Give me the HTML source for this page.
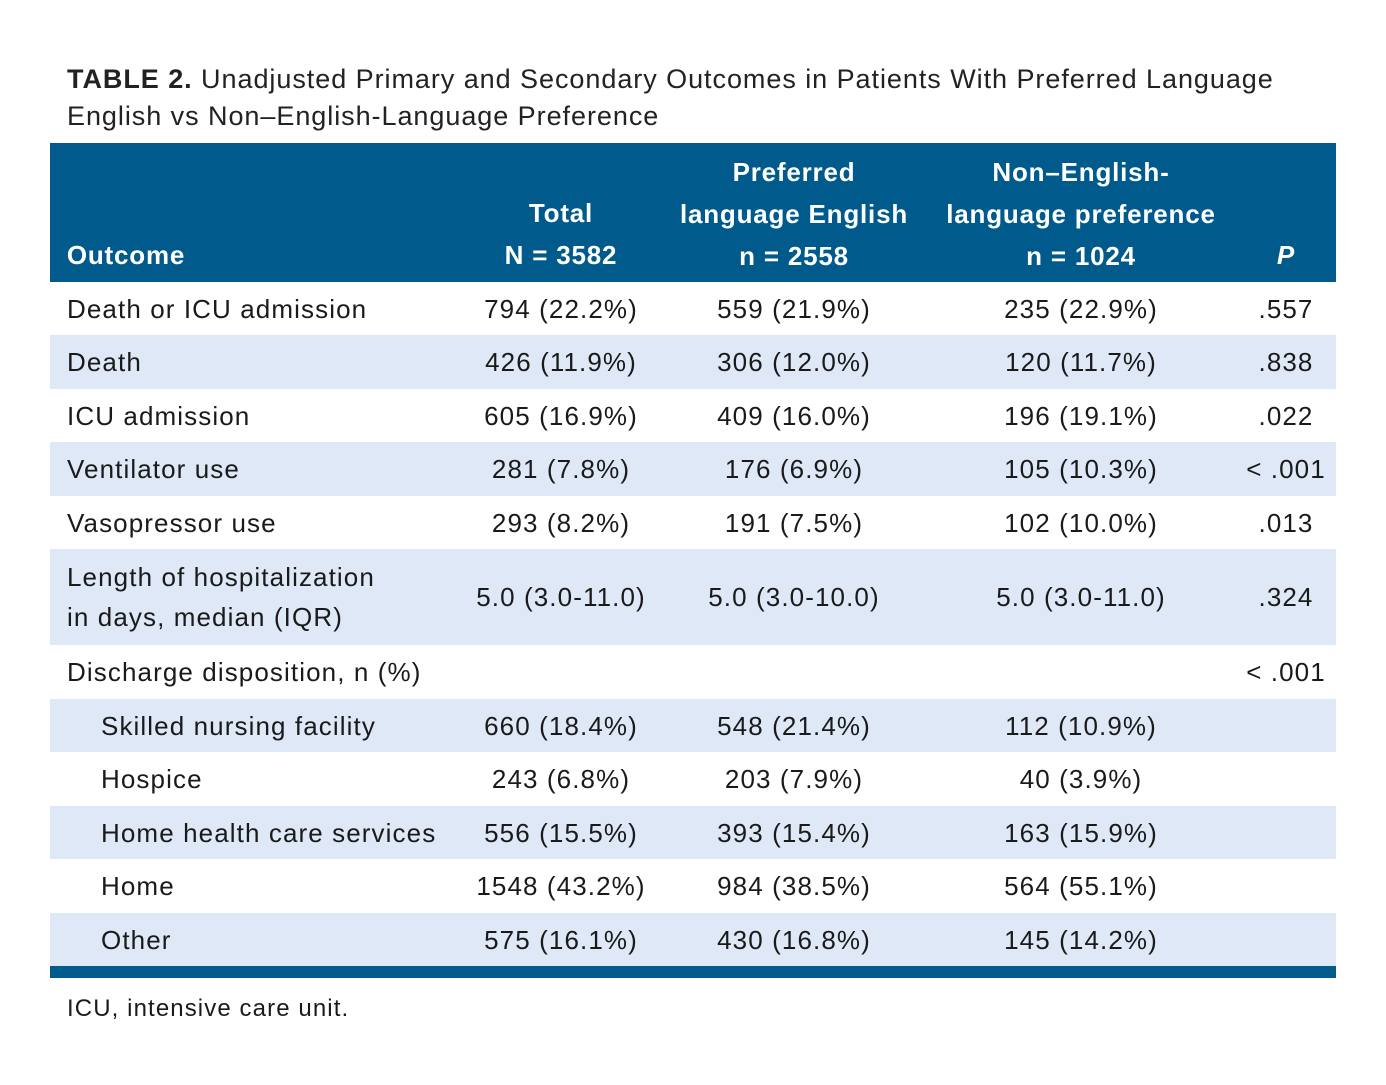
<!DOCTYPE html>
<html><head><meta charset="utf-8"><style>
body{margin:0;width:1386px;height:1085px;background:#fff;font-family:"Liberation Sans",sans-serif;color:#1a1a1a;position:relative;overflow:hidden}
.t{position:absolute;white-space:nowrap;font-size:26px;line-height:30px;letter-spacing:1.1px}
.c{transform:translateX(-50%);text-align:center}
.hdr{position:absolute;left:50px;top:143px;width:1286px;height:139px;background:#005a8c}
.h{position:absolute;color:#fff;font-weight:bold;font-size:26px;line-height:42px;text-align:center;transform:translateX(-50%);white-space:nowrap;letter-spacing:0.8px}
.row{position:absolute;left:50px;width:1286px}
.alt{background:#dee8f6}
</style></head><body>
<div class="t" style="left:67px;top:61px;font-size:27px;line-height:37px;color:#222;letter-spacing:0.95px"><b>TABLE 2.</b> Unadjusted Primary and Secondary Outcomes in Patients With Preferred Language<br>English vs Non–English-Language Preference</div>
<div class="hdr"></div>
<div class="h" style="left:126px;top:234px">Outcome</div>
<div class="h" style="left:561px;top:192px">Total<br>N = 3582</div>
<div class="h" style="left:794px;top:151px">Preferred<br>language English<br>n = 2558</div>
<div class="h" style="left:1081px;top:151px">Non–English-<br>language preference<br>n = 1024</div>
<div class="h" style="left:1286px;top:234px"><i>P</i></div>
<div id="rows"></div>
<div class="row" style="top:966px;height:12px;background:#005a8c"></div>
<div class="t" style="left:67px;top:994px;font-size:24px">ICU, intensive care unit.</div>
<script>
const labels=["Death or ICU admission","Death","ICU admission","Ventilator use","Vasopressor use","Length of hospitalization<br>in days, median (IQR)","Discharge disposition, n (%)","Skilled nursing facility","Hospice","Home health care services","Home","Other"];
const total=["794 (22.2%)","426 (11.9%)","605 (16.9%)","281 (7.8%)","293 (8.2%)","5.0 (3.0-11.0)","","660 (18.4%)","243 (6.8%)","556 (15.5%)","1548 (43.2%)","575 (16.1%)"];
const english=["559 (21.9%)","306 (12.0%)","409 (16.0%)","176 (6.9%)","191 (7.5%)","5.0 (3.0-10.0)","","548 (21.4%)","203 (7.9%)","393 (15.4%)","984 (38.5%)","430 (16.8%)"];
const nonEnglish=["235 (22.9%)","120 (11.7%)","196 (19.1%)","105 (10.3%)","102 (10.0%)","5.0 (3.0-11.0)","","112 (10.9%)","40 (3.9%)","163 (15.9%)","564 (55.1%)","145 (14.2%)"];
const pvals=[".557",".838",".022","< .001",".013",".324","< .001","","","","",""];
const tops=[282,335,389,442,496,549,645,699,752,806,859,913];
const heights=[53,54,53,54,53,96,54,53,54,53,54,53];
const indent=[0,0,0,0,0,0,0,1,1,1,1,1];
const alt=[0,1,0,1,0,1,0,1,0,1,0,1];
const root=document.getElementById('rows');
labels.forEach((lab,i)=>{
  const r=document.createElement('div');
  r.className='row'+(alt[i]?' alt':'');
  r.style.top=tops[i]+'px';r.style.height=heights[i]+'px';
  
  
  root.appendChild(r);
  const two=lab.includes('<br>');
  const cy=tops[i]+heights[i]/2;
  const mk=(html,x,center,name)=>{
    const d=document.createElement('div');
    d.className='t'+(center?' c':'');
    d.innerHTML=html;
    d.style.left=x+'px';
    d.style.top=(cy-15)+'px';
    if(two&&!center){d.style.lineHeight='40px';d.style.top=(cy-40)+'px';}
    
    
    root.appendChild(d);
  };
  mk(lab,indent[i]?101:67,false,'row-label');
  mk(total[i],561,true,'total-cell');
  mk(english[i],794,true,'english-cell');
  mk(nonEnglish[i],1081,true,'non-english-cell');
  mk(pvals[i],1286,true,'p-value-cell');
});
</script>
</body></html>
